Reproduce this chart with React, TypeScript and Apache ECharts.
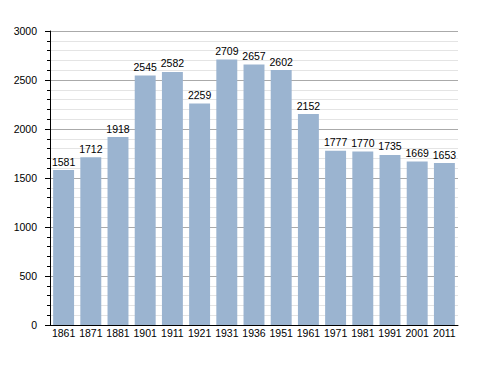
import React, { useEffect, useRef } from "react";
import * as echarts from "echarts";

const years = ["1861", "1871", "1881", "1901", "1911", "1921", "1931", "1936", "1951", "1961", "1971", "1981", "1991", "2001", "2011"];
const population = [1581, 1712, 1918, 2545, 2582, 2259, 2709, 2657, 2602, 2152, 1777, 1770, 1735, 1669, 1653];

const FONT = "Liberation Sans, Arial, sans-serif";

export default function App() {
  const ref = useRef<HTMLDivElement>(null);
  useEffect(() => {
    if (!ref.current) return;
    const chart = echarts.init(ref.current, null, { renderer: "svg" });
    chart.setOption({
      animation: false,
      grid: { left: 50, top: 31, right: 30, bottom: 48, containLabel: false },
      xAxis: {
        type: "category",
        data: years,
        axisLine: { lineStyle: { color: "#000", width: 1 } },
        axisTick: { show: false },
        axisLabel: { color: "#000", fontSize: 10.5, fontFamily: FONT, margin: 2, interval: 0 },
      },
      yAxis: {
        type: "value",
        min: 0,
        max: 3000,
        interval: 500,
        axisLine: { show: true, lineStyle: { color: "#000", width: 1 } },
        axisTick: { show: true, length: 5, lineStyle: { color: "#000" } },
        minorTick: { show: true, splitNumber: 5, length: 3, lineStyle: { color: "#000" } },
        axisLabel: { color: "#000", fontSize: 10.5, fontFamily: FONT, margin: 13, formatter: (v: number) => String(v) },
        splitLine: { show: true, lineStyle: { color: "#aaaaaa", width: 1 } },
        minorSplitLine: { show: true, lineStyle: { color: "#e4e4e4", width: 1 } },
      },
      series: [
        {
          type: "bar",
          data: population,
          barCategoryGap: "23%",
          itemStyle: { color: "#9bb4d0" },
          label: {
            show: true,
            position: "top",
            distance: 3,
            color: "#000",
            fontSize: 10.5,
            fontFamily: FONT,
          },
        },
      ],
    });
    return () => chart.dispose();
  }, []);
  return <div ref={ref} style={{ width: 488, height: 373, position: "absolute", left: 0, top: 0, background: "#fff" }} />;
}
